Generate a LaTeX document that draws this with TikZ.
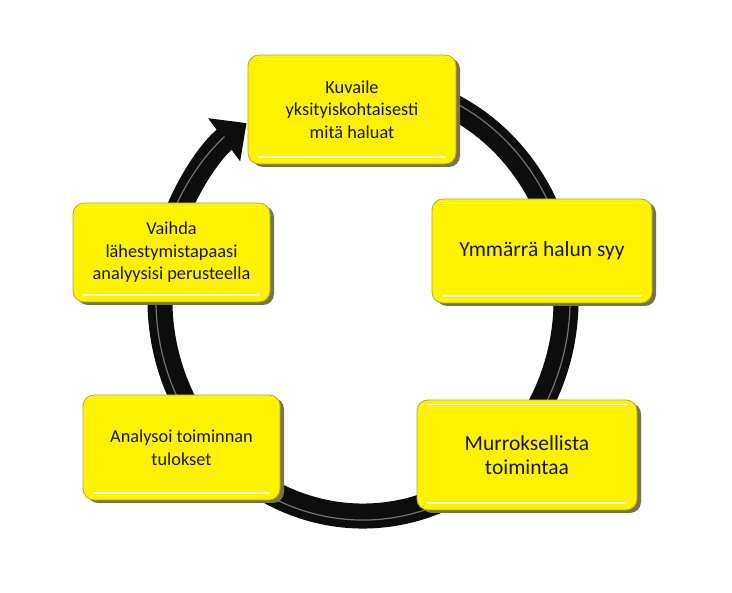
\documentclass[tikz,border=0pt]{standalone}
\usepackage{fontspec}
\setmainfont{Carlito}
\usetikzlibrary{arrows.meta,shadows}
\begin{document}
\begin{tikzpicture}[x=1pt,y=1pt,
    card/.style={rectangle, rounded corners=11pt, fill=yellow, draw=yellow!65!black, line width=0.8pt,
      align=center, text=black!90, inner sep=0pt,
      drop shadow={shadow xshift=4pt, shadow yshift=-3pt, fill=yellow!40!black, opacity=1}},
    bigtext/.style={font=\fontsize{21.5}{24}\selectfont},
    smalltext/.style={font=\fontsize{18.3}{22.5}\selectfont},
    ring/.style={line width=25pt, black!95, -{Triangle[width=52pt,length=28pt]}},
    gloss/.style={line width=1.2pt, black!55},
    shine/.style={line width=1.8pt, yellow!15!white, line cap=round}]
  \useasboundingbox (0,0) rectangle (732,593);
  \coordinate (ctr) at (363,293);
  \draw[ring] ([shift={(70:203pt and 216pt)}]ctr) arc[start angle=70, end angle=-235, x radius=203pt, y radius=216pt];
  \draw[gloss] ([shift={(70:207pt and 220pt)}]ctr) arc[start angle=70, end angle=-228, x radius=207pt, y radius=220pt];
  \node[card, smalltext, minimum width=208, minimum height=109] (kuvaile) at (352,483.5) {Kuvaile\\yksityiskohtaisesti\\mitä haluat};
  \node[card, bigtext, minimum width=220, minimum height=104] (syy) at (542,342) {Ymmärrä halun syy};
  \node[card, bigtext, minimum width=220, minimum height=110] (murros) at (527,138) {Murroksellista\\toimintaa};
  \node[card, smalltext, minimum width=197, minimum height=105] (analysoi) at (181.5,145.5) {Analysoi toiminnan\\tulokset};
  \node[card, smalltext, minimum width=197, minimum height=99] (vaihda) at (171.5,340.5) {Vaihda\\lähestymistapaasi\\analyysisi perusteella};
  \foreach \n in {kuvaile,syy,murros,analysoi,vaihda} {
    \draw[shine] ([xshift=11,yshift=-5]\n.north west) -- ([xshift=-11,yshift=-5]\n.north east);
    \draw[shine] ([xshift=11,yshift=7]\n.south west) -- ([xshift=-11,yshift=7]\n.south east);
  }
\end{tikzpicture}
\end{document}
